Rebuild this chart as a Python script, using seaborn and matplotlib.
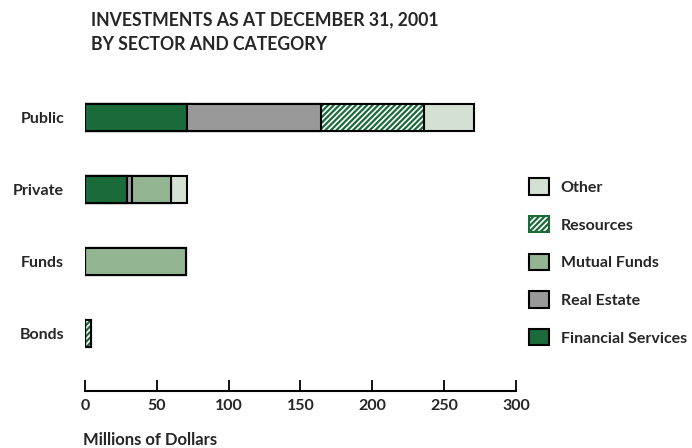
import numpy as np
import matplotlib
matplotlib.use("Agg")
import matplotlib.pyplot as plt
from matplotlib.patches import Patch
import seaborn as sns

sectors = ["Public", "Private", "Funds", "Bonds"]
financial = [71, 29, 0, 0]
real_estate = [93, 4, 0, 0]
mutual_funds = [0, 27, 70, 0]
resources = [72, 0, 0, 4]
other = [35, 11, 0, 0]

xticks = [0, 50, 100, 150, 200, 250, 300]

c_fin = "#1a6a3a"
c_re = "#999999"
c_mf = "#93b592"
c_oth = "#d4e0d4"
c_res = "#1a6a3a"

sns.set_style("white")
plt.rcParams["font.family"] = ["Lato", "DejaVu Sans"]
plt.rcParams["hatch.linewidth"] = 1.6

fig = plt.figure(figsize=(6.92, 4.48), dpi=100)
ax = fig.add_axes([85 / 692, 1 - 391 / 448, (516 - 85) / 692, (391 - 74) / 448])

# cumulative stacks, drawn back to front
c1 = np.array(financial)
c2 = c1 + np.array(real_estate)
c3 = c2 + np.array(mutual_funds)
c4 = c3 + np.array(resources)
c5 = c4 + np.array(other)

bw = 0.375
lw = 1.5
sns.barplot(x=c5, y=sectors, orient="h", color=c_oth, saturation=1,
            edgecolor="black", linewidth=lw, width=bw, ax=ax)
sns.barplot(x=c4, y=sectors, orient="h", color="white", saturation=1,
            edgecolor=c_res, linewidth=0, hatch="//////", width=bw, ax=ax)
sns.barplot(x=c4, y=sectors, orient="h", color="black", fill=False,
            linewidth=lw, width=bw, ax=ax)
sns.barplot(x=c3, y=sectors, orient="h", color=c_mf, saturation=1,
            edgecolor="black", linewidth=lw, width=bw, ax=ax)
sns.barplot(x=c2, y=sectors, orient="h", color=c_re, saturation=1,
            edgecolor="black", linewidth=lw, width=bw, ax=ax)
sns.barplot(x=c1, y=sectors, orient="h", color=c_fin, saturation=1,
            edgecolor="black", linewidth=lw, width=bw, ax=ax)

ax.set_xlim(0, 300)
ax.set_ylim(3.8, -0.6)
ax.set_xticks(xticks)
ax.set_xticklabels([str(t) for t in xticks], fontweight="bold", fontsize=11.5)
ax.set_yticks(range(len(sectors)))
ax.set_yticklabels(sectors, fontweight="bold", fontsize=11.5)
ax.tick_params(axis="x", bottom=True, direction="in", length=8, width=1.3, pad=6, color="black")
ax.tick_params(axis="y", left=False, length=0, pad=15)
ax.set_xlabel("")
ax.set_ylabel("")
for s in ["top", "right", "left"]:
    ax.spines[s].set_visible(False)
ax.spines["bottom"].set_linewidth(1.5)
ax.spines["bottom"].set_color("black")

fig.text(91 / 692, 1 - 20 / 448, "INVESTMENTS AS AT DECEMBER 31, 2001",
         fontweight="bold", fontsize=12.7, va="center", ha="left")
fig.text(91 / 692, 1 - 45 / 448, "BY SECTOR AND CATEGORY",
         fontweight="bold", fontsize=12.7, va="center", ha="left")
fig.text(83 / 692, 1 - 440 / 448, "Millions of Dollars",
         fontweight="bold", fontsize=12, va="center", ha="left")

handles = [
    Patch(facecolor=c_oth, edgecolor="black", linewidth=lw, label="Other"),
    Patch(facecolor="white", edgecolor=c_res, hatch="//////", linewidth=lw, label="Resources"),
    Patch(facecolor=c_mf, edgecolor="black", linewidth=lw, label="Mutual Funds"),
    Patch(facecolor=c_re, edgecolor="black", linewidth=lw, label="Real Estate"),
    Patch(facecolor=c_fin, edgecolor="black", linewidth=lw, label="Financial Services"),
]
fig.legend(handles=handles, loc="upper left", bbox_to_anchor=(523 / 692, 1 - 172 / 448),
           frameon=False, prop={"weight": "bold", "size": 11.5},
           handlelength=1.2, handleheight=1.2, labelspacing=1.32, handletextpad=0.75,
           borderaxespad=0)

fig.savefig("out.png", dpi=100)
